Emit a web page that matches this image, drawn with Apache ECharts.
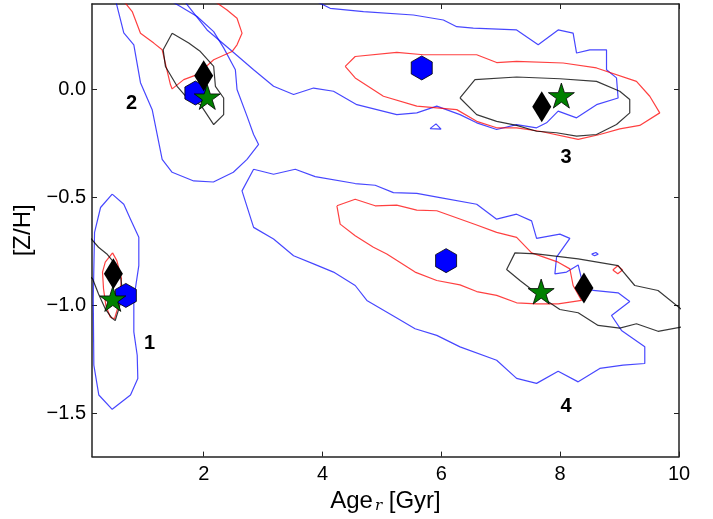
<!DOCTYPE html>
<html>
<head>
<meta charset="utf-8">
<script src="https://cdn.jsdelivr.net/npm/echarts@6/dist/echarts.min.js"></script>
<style>
  html, body { margin: 0; padding: 0; background: #fff; }
  #chart { width: 713px; height: 519px; }
</style>
</head>
<body>
<div id="chart"></div>
<script>
// axis ticks
const xTicks = [2, 4, 6, 8, 10];
const yTicks = [-1.5, -1.0, -0.5, 0.0];

// marker positions [age, Z/H] for the four regions
const hexPts = [[0.69, -0.954], [1.86, -0.017], [5.67, 0.099], [6.08, -0.793]];
const diamondPts = [[0.48, -0.854], [2.00, 0.063], [7.69, -0.081], [8.40, -0.920]];
const starPts = [[0.47, -0.970], [2.06, -0.035], [8.02, -0.029], [7.68, -0.936]];

// region numbers
const labelPts = [[1.09, -1.177], [0.785, -0.066], [8.10, -0.315], [8.10, -1.467]];
const labelTexts = ['1', '2', '3', '4'];

// blue contours
const blue1 = [[0.46,-0.485],[0.655,-0.532],[0.768,-0.601],[0.908,-0.685],[0.908,-0.816],[0.824,-0.970],
  [0.824,-1.123],[0.881,-1.231],[0.891,-1.338],[0.768,-1.415],[0.46,-1.481],[0.235,-1.415],
  [0.151,-1.277],[0.141,-0.970],[0.163,-0.662],[0.264,-0.547],[0.46,-0.485]];
const blue2 = [[0.51,0.42],[0.655,0.261],[0.824,0.206],[0.936,0.031],[1.133,-0.094],[1.301,-0.324],
  [1.469,-0.384],[1.832,-0.424],[2.163,-0.429],[2.499,-0.384],[2.729,-0.324],[2.924,-0.255],
  [2.840,-0.209],[2.729,-0.124],[2.561,-0.001],[2.533,0.091],[2.336,0.192],[2.168,0.267],
  [1.889,0.337],[1.608,0.383],[1.38,0.42]];
const blue3 = [[1.64,0.42],[2.057,0.275],[2.449,0.183],[2.840,0.091],[3.176,0.014],[3.513,-0.024],
  [3.849,0.006],[4.185,-0.009],[4.578,-0.071],[5.250,-0.117],[5.587,-0.109],[5.923,-0.078],
  [6.314,-0.117],[6.595,-0.155],[6.931,-0.186],[7.267,-0.163],[7.603,-0.178],[7.771,-0.155],
  [7.966,-0.101],[8.276,-0.132],[8.612,-0.071],[8.975,-0.040],[8.948,0.053],[8.780,0.091],
  [8.780,0.183],[8.499,0.183],[8.276,0.168],[8.218,0.260],[7.966,0.275],[7.630,0.206],
  [7.267,0.275],[6.538,0.283],[6.259,0.290],[6.034,0.321],[5.529,0.344],[4.689,0.360],
  [4.129,0.375],[3.80,0.42]];
const blue3b = [[5.81,-0.182],[5.91,-0.160],[5.995,-0.184],[5.81,-0.182]];
const blue4 = [[2.840,-0.370],[3.176,-0.393],[3.541,-0.370],[3.877,-0.404],[4.550,-0.436],[4.886,-0.444],
  [5.193,-0.478],[5.587,-0.482],[5.978,-0.501],[6.595,-0.532],[6.931,-0.601],[7.267,-0.578],
  [7.519,-0.609],[7.603,-0.690],[7.995,-0.670],[8.163,-0.690],[7.939,-0.777],[7.911,-0.854],
  [8.108,-0.846],[8.303,-0.813],[8.387,-0.908],[8.555,-0.931],[8.975,-0.942],[9.171,-0.982],
  [8.864,-1.047],[9.032,-1.116],[9.424,-1.192],[9.424,-1.269],[9.059,-1.277],[8.667,-1.292],
  [8.303,-1.354],[7.966,-1.305],[7.603,-1.361],[7.267,-1.338],[6.931,-1.254],[6.314,-1.192],
  [5.923,-1.139],[5.558,-1.108],[5.222,-1.054],[4.746,-0.977],[4.550,-0.908],[4.185,-0.846],
  [3.849,-0.808],[3.513,-0.770],[3.176,-0.693],[2.840,-0.639],[2.645,-0.470],[2.840,-0.370]];
const blue4b = [[8.53,-0.763],[8.60,-0.755],[8.64,-0.763],[8.58,-0.770],[8.53,-0.763]];

// red contours
const red1 = [[0.466,-0.757],[0.538,-0.793],[0.617,-0.877],[0.595,-0.931],[0.566,-1.000],[0.499,-1.062],
  [0.427,-1.054],[0.353,-1.000],[0.314,-0.923],[0.297,-0.846],[0.343,-0.800],[0.466,-0.757]];
const red2 = [[0.62,0.42],[0.797,0.360],[0.936,0.260],[1.160,0.214],[1.301,0.183],[1.440,0.022],
  [1.469,0.002],[1.664,0.045],[1.889,0.068],[2.168,0.137],[2.477,0.175],[2.561,0.206],
  [2.645,0.260],[2.561,0.329],[2.393,0.367],[2.12,0.42]];
const red3 = [[4.382,0.106],[4.550,0.152],[5.250,0.171],[5.697,0.160],[6.595,0.160],[6.931,0.124],
  [7.267,0.129],[8.050,0.122],[8.612,0.099],[9.284,0.037],[9.508,-0.032],[9.676,-0.109],
  [9.339,-0.167],[9.003,-0.183],[8.667,-0.209],[8.303,-0.232],[7.659,-0.194],[7.267,-0.178],
  [6.931,-0.178],[6.595,-0.148],[6.259,-0.094],[5.587,-0.078],[5.025,-0.032],[4.550,0.053],
  [4.382,0.106]];
const red4 = [[4.242,-0.539],[4.550,-0.509],[4.886,-0.539],[5.250,-0.536],[5.587,-0.559],[5.923,-0.562],
  [6.595,-0.628],[6.931,-0.662],[7.267,-0.685],[7.519,-0.757],[7.966,-0.800],[8.163,-0.831],
  [8.218,-0.908],[8.360,-0.977],[7.966,-0.993],[7.603,-0.993],[7.267,-0.988],[6.931,-0.954],
  [6.595,-0.936],[6.314,-0.905],[5.923,-0.885],[5.558,-0.846],[5.082,-0.762],[4.857,-0.731],
  [4.550,-0.678],[4.297,-0.624],[4.242,-0.539]];
const red4b = [[8.886,-0.836],[8.970,-0.817],[9.049,-0.836],[8.970,-0.854],[8.886,-0.836]];

// black contours
const black1 = [[0.10,-0.69],[0.230,-0.731],[0.370,-0.762],[0.466,-0.794],[0.600,-0.868],[0.634,-0.933],
  [0.583,-1.006],[0.511,-1.070],[0.454,-1.059],[0.343,-1.016],[0.230,-0.947],[0.129,-0.877],[0.10,-0.87]];
const black2 = [[1.469,0.260],[1.318,0.183],[1.356,0.106],[1.553,0.014],[1.721,-0.040],[1.945,-0.071],
  [2.168,-0.163],[2.336,-0.117],[2.336,-0.040],[2.197,0.014],[2.168,0.106],[1.945,0.175],
  [1.748,0.214],[1.469,0.260]];
const black3 = [[6.314,-0.040],[6.566,0.045],[7.267,0.057],[7.995,0.049],[8.612,0.037],[9.003,-0.009],
  [9.171,-0.047],[9.171,-0.109],[8.948,-0.163],[8.612,-0.209],[8.276,-0.217],[7.939,-0.201],
  [7.603,-0.194],[7.267,-0.167],[6.931,-0.148],[6.595,-0.117],[6.314,-0.040]];
const black4 = [[10.05,-1.02],[9.647,-0.931],[9.255,-0.908],[8.975,-0.816],[8.303,-0.785],[7.603,-0.762],
  [7.239,-0.757],[7.099,-0.834],[7.323,-0.885],[7.687,-0.962],[7.995,-1.019],[8.303,-1.034],
  [8.639,-1.093],[9.003,-1.105],[9.284,-1.085],[9.647,-1.120],[10.05,-1.10]];

const BLUE = 'rgba(0,0,255,0.72)';
const RED = 'rgba(255,0,0,0.75)';
const BLACK = 'rgba(0,0,0,0.78)';

const HEX = 'path://M0,-1 L0.866,-0.5 L0.866,0.5 L0,1 L-0.866,0.5 L-0.866,-0.5 Z';
const STAR = 'path://M0,-1 L0.225,-0.309 L0.951,-0.309 L0.363,0.118 L0.588,0.809 L0,0.382 ' +
  'L-0.588,0.809 L-0.363,0.118 L-0.951,-0.309 L-0.225,-0.309 Z';

const FONT = 'Liberation Sans';

function contour(data, color) {
  return {
    type: 'line', data: data, showSymbol: false, symbol: 'none',
    lineStyle: { color: color, width: 1.2 }, silent: true, z: 2
  };
}

function fmtY(v) {
  return v.toFixed(1).replace('-', '\u2212');
}

const chart = echarts.init(document.getElementById('chart'), null, { renderer: 'canvas' });

const frameAxis = {
  axisLine: { show: true, onZero: false, lineStyle: { color: '#222', width: 1.5 } },
  splitLine: { show: false }
};

chart.setOption({
  animation: false,
  backgroundColor: '#fff',
  grid: { left: 92, right: 34, top: 4, bottom: 61, containLabel: false },
  xAxis: [
    Object.assign({
      type: 'value', min: 0.12, max: 10, position: 'bottom',
      axisTick: { show: true, inside: true, length: 5, customValues: xTicks, lineStyle: { color: '#222' } },
      axisLabel: { customValues: xTicks, fontSize: 20, color: '#000', fontFamily: FONT, margin: 8 },
      name: 'Age{sub|r} [Gyr]', nameLocation: 'middle', nameGap: 26,
      nameTextStyle: {
        fontSize: 24, color: '#000', fontFamily: FONT,
        rich: { sub: { fontSize: 15, fontStyle: 'italic', fontFamily: 'DejaVu Serif', verticalAlign: 'bottom', padding: [10, 0, 0, 2] } }
      }
    }, frameAxis),
    Object.assign({
      type: 'value', min: 0.12, max: 10, position: 'top',
      axisTick: { show: true, inside: true, length: 5, customValues: xTicks, lineStyle: { color: '#222' } },
      axisLabel: { show: false }
    }, frameAxis)
  ],
  yAxis: [
    Object.assign({
      type: 'value', min: -1.7, max: 0.395, position: 'left',
      axisTick: { show: true, inside: true, length: 5, customValues: yTicks, lineStyle: { color: '#222' } },
      axisLabel: { customValues: yTicks, fontSize: 20, color: '#000', fontFamily: FONT, margin: 6, formatter: fmtY },
      name: '[Z/H]', nameLocation: 'middle', nameGap: 54,
      nameTextStyle: { fontSize: 24, color: '#000', fontFamily: FONT }
    }, frameAxis),
    Object.assign({
      type: 'value', min: -1.7, max: 0.395, position: 'right',
      axisTick: { show: true, inside: true, length: 5, customValues: yTicks, lineStyle: { color: '#222' } },
      axisLabel: { show: false }
    }, frameAxis)
  ],
  series: [
    contour(blue1, BLUE), contour(blue2, BLUE), contour(blue3, BLUE), contour(blue3b, BLUE),
    contour(blue4, BLUE), contour(blue4b, BLUE),
    contour(red1, RED), contour(red2, RED), contour(red3, RED), contour(red4, RED), contour(red4b, RED),
    contour(black1, BLACK), contour(black2, BLACK), contour(black3, BLACK), contour(black4, BLACK),
    {
      type: 'scatter', data: hexPts, symbol: HEX, symbolSize: [21, 24], z: 5,
      itemStyle: { color: '#0000ff', borderColor: '#000', borderWidth: 0.8, opacity: 1 }
    },
    {
      type: 'scatter', data: diamondPts, symbol: 'diamond', symbolSize: [19, 31], z: 6,
      itemStyle: { color: '#000', opacity: 1 }
    },
    {
      type: 'scatter', data: starPts, symbol: STAR, symbolSize: [26, 25], z: 7,
      itemStyle: { color: '#008000', borderColor: '#000', borderWidth: 0.8, opacity: 1 }
    },
    {
      type: 'scatter', data: labelPts, symbolSize: 0, z: 8, silent: true,
      label: {
        show: true, position: 'inside', formatter: p => labelTexts[p.dataIndex],
        fontSize: 20, fontWeight: 'bold', color: '#000', textBorderWidth: 0, opacity: 1,
        fontFamily: FONT
      }
    }
  ]
});
</script>
</body>
</html>
